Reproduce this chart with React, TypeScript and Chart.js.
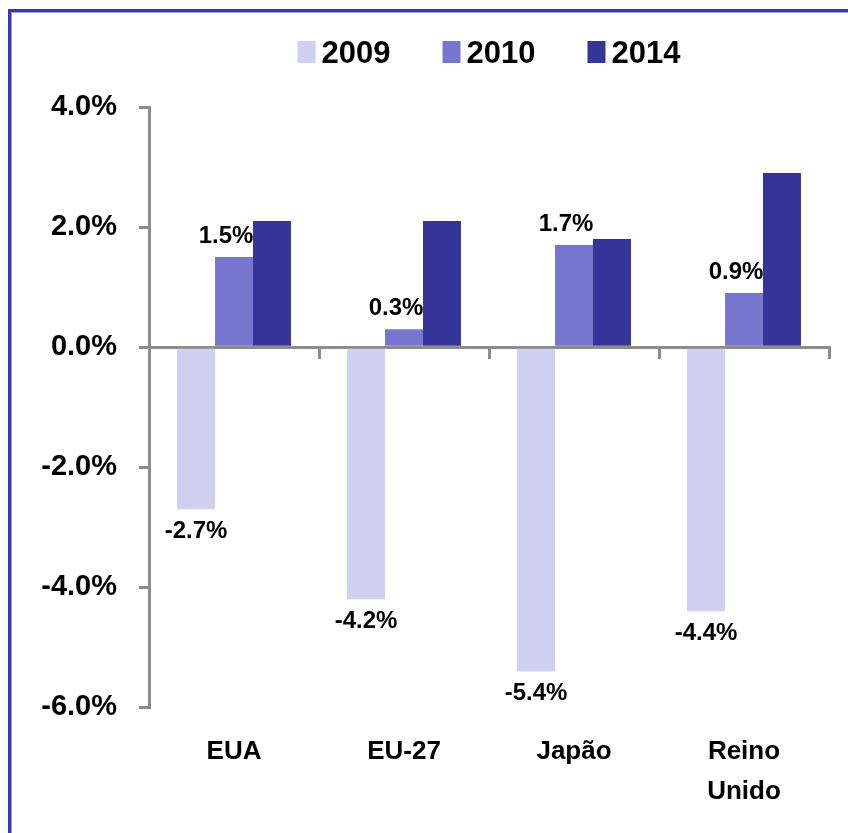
import React, { useEffect, useRef } from 'react';
import { Chart, registerables } from 'chart.js';

Chart.register(...registerables);

const categories: (string | string[])[] = ['EUA', 'EU-27', 'Japão', ['Reino', 'Unido']];
const seriesLabels = ['2009', '2010', '2014'];
const values2009 = [-2.7, -4.2, -5.4, -4.4];
const values2010 = [1.5, 0.3, 1.7, 0.9];
const values2014 = [2.1, 2.1, 1.8, 2.9];
const seriesColors = ['#d0d0f0', '#7676cf', '#343499'];
const showValueLabels = [true, true, false];
const yMin = -6;
const yMax = 4;
const yStep = 2;

const FONT = '"Liberation Sans", Arial, Helvetica, sans-serif';

const fmt = (v: number) => v.toFixed(1) + '%';

const legendPlugin = {
  id: 'customLegend',
  afterDraw(chart: any) {
    const ctx = chart.ctx;
    const area = chart.chartArea;
    ctx.save();
    ctx.font = `bold 31px ${FONT}`;
    const boxW = 18;
    const boxH = 22;
    const gapText = 6;
    const gapItem = 52;
    const items = chart.data.datasets.map((ds: any) => ({
      label: ds.label,
      color: ds.backgroundColor,
      w: ctx.measureText(ds.label).width,
    }));
    const total =
      items.reduce((s: number, it: any) => s + boxW + gapText + it.w, 0) +
      gapItem * (items.length - 1);
    let x = (area.left + area.right) / 2 - total / 2;
    const baseline = area.top - 44;
    const boxTop = area.top - 66;
    items.forEach((it: any) => {
      ctx.fillStyle = it.color;
      ctx.fillRect(x, boxTop, boxW, boxH);
      ctx.fillStyle = '#000';
      ctx.textAlign = 'left';
      ctx.textBaseline = 'alphabetic';
      ctx.fillText(it.label, x + boxW + gapText, baseline);
      x += boxW + gapText + it.w + gapItem;
    });
    ctx.restore();
  },
};

const valueLabelPlugin = {
  id: 'valueLabels',
  afterDatasetsDraw(chart: any) {
    const ctx = chart.ctx;
    ctx.save();
    ctx.font = `bold 24px ${FONT}`;
    ctx.fillStyle = '#000';
    ctx.textAlign = 'center';
    chart.data.datasets.forEach((ds: any, i: number) => {
      if (!showValueLabels[i]) return;
      const meta = chart.getDatasetMeta(i);
      meta.data.forEach((bar: any, j: number) => {
        const v = ds.data[j] as number;
        if (v >= 0) {
          ctx.textBaseline = 'alphabetic';
          ctx.fillText(fmt(v), bar.x - 8, bar.y - 14);
        } else {
          ctx.textBaseline = 'top';
          ctx.fillText(fmt(v), bar.x, bar.y + 10);
        }
      });
    });
    ctx.restore();
  },
};

export default function App() {
  const canvasRef = useRef<HTMLCanvasElement | null>(null);

  useEffect(() => {
    if (!canvasRef.current) return;
    const seriesValues = [values2009, values2010, values2014];
    const chart = new Chart(canvasRef.current, {
      type: 'bar',
      data: {
        labels: categories as any,
        datasets: seriesLabels.map((label, i) => ({
          label,
          data: seriesValues[i],
          backgroundColor: seriesColors[i],
          borderWidth: 0,
          categoryPercentage: 0.67,
          barPercentage: 1.0,
        })),
      },
      options: {
        responsive: false,
        animation: false,
        layout: { padding: { top: 107, right: 19, bottom: -3, left: 0 } },
        plugins: {
          legend: { display: false },
          tooltip: { enabled: false },
        },
        scales: {
          x: {
            type: 'category',
            position: 'bottom',
            offset: true,
            grid: { display: false, drawTicks: false },
            border: { display: false },
            ticks: {
              color: '#000',
              padding: 24,
              maxRotation: 0,
              autoSkip: false,
              font: { family: FONT, size: 26, weight: 'bold', lineHeight: 1.55 },
            },
          },
          x0: {
            type: 'category',
            axis: 'x',
            labels: categories as any,
            position: { y: 0 } as any,
            offset: true,
            afterFit: (scale: any) => {
              scale.height = 0;
            },
            grid: {
              offset: true,
              drawOnChartArea: false,
              drawTicks: true,
              tickLength: 10,
              color: '#8c8c8c',
              lineWidth: 3,
            },
            border: { display: true, color: '#8c8c8c', width: 3 },
            ticks: { display: false },
          },
          y: {
            type: 'linear',
            min: yMin,
            max: yMax,
            afterFit: (scale: any) => {
              scale.width = 149;
            },
            grid: {
              drawOnChartArea: false,
              drawTicks: true,
              tickLength: 10,
              color: '#8c8c8c',
              lineWidth: 3,
            },
            border: { display: true, color: '#8c8c8c', width: 3 },
            ticks: {
              stepSize: yStep,
              color: '#000',
              padding: 22,
              font: { family: FONT, size: 29, weight: 'bold' },
              callback: (v: any) => fmt(Number(v)),
            },
          },
        } as any,
      },
      plugins: [legendPlugin, valueLabelPlugin],
    });
    return () => chart.destroy();
  }, []);

  return (
    <div
      style={{
        position: 'fixed',
        left: 0,
        top: 0,
        width: 848,
        height: 833,
        overflow: 'hidden',
        background: '#fff',
      }}
    >
      <div
        style={{
          position: 'absolute',
          left: 8,
          top: 9,
          width: 860,
          height: 840,
          borderTop: '3px solid #3a3aa6',
          borderLeft: '3px solid #3a3aa6',
          boxShadow: 'inset 1px 1px 0 #9a9ae0',
        }}
      />
      <canvas
        ref={canvasRef}
        width={848}
        height={833}
        style={{ position: 'absolute', left: 0, top: 0, width: 848, height: 833 }}
      />
    </div>
  );
}
